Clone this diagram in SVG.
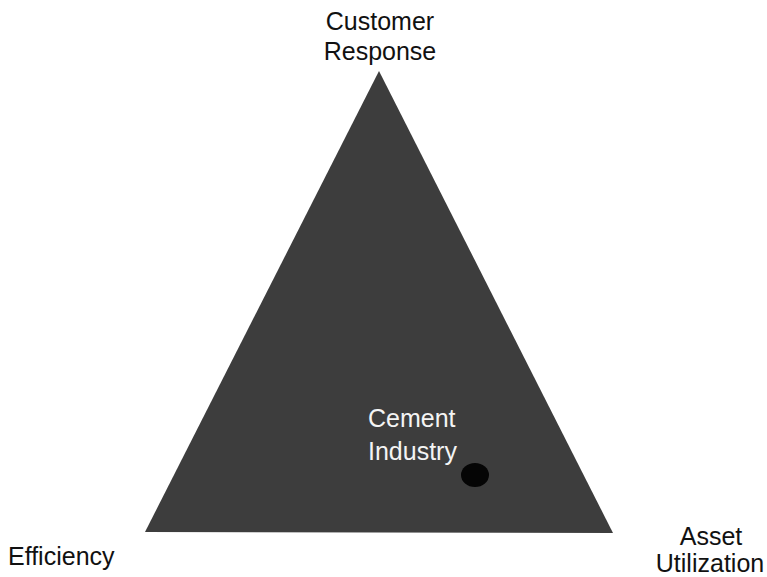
<svg xmlns="http://www.w3.org/2000/svg" width="767" height="577" viewBox="0 0 767 577">
<style>
.lbl{font-family:"Liberation Sans",Arial,sans-serif;font-size:25px;fill:#111}
.in{font-family:"Liberation Sans",Arial,sans-serif;font-size:25px;fill:#f4f4f4}
</style>
<rect width="767" height="577" fill="#ffffff"/>
<g id="triangle">
<polygon points="379,71 145,532 613,533" fill="#3d3d3d"/>
</g>
<g id="customer-response">
<text class="lbl" x="380" y="30" text-anchor="middle">Customer</text>
<text class="lbl" x="380" y="60" text-anchor="middle">Response</text>
</g>
<g id="efficiency">
<text class="lbl" x="8" y="565">Efficiency</text>
</g>
<g id="asset-utilization">
<text class="lbl" x="711" y="545" text-anchor="middle">Asset</text>
<text class="lbl" x="710" y="572" text-anchor="middle">Utilization</text>
</g>
<g id="cement-industry">
<text class="in" x="368" y="427">Cement</text>
<text class="in" x="368" y="460">Industry</text>
<ellipse cx="475" cy="475" rx="14" ry="12" fill="#050505"/>
</g>
</svg>
